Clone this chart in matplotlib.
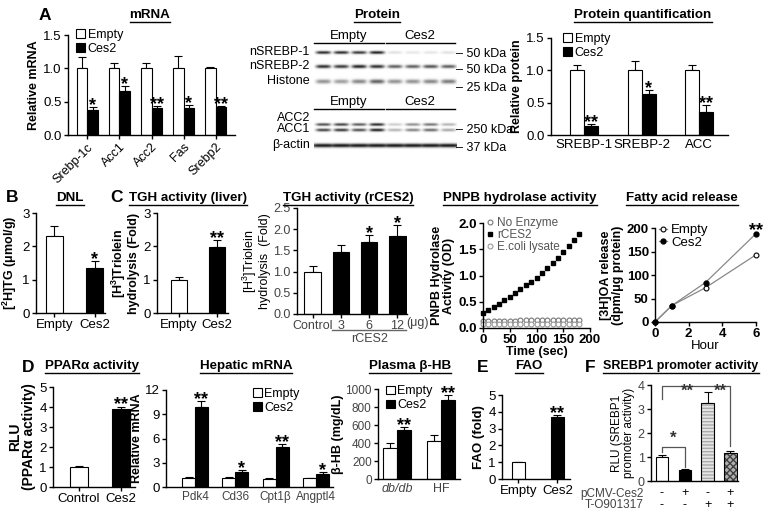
import numpy as np
import matplotlib
matplotlib.use('Agg')
import matplotlib.pyplot as plt
from matplotlib.patches import Patch
from matplotlib.lines import Line2D
from matplotlib.transforms import IdentityTransform, blended_transform_factory

plt.rcParams['font.family'] = ['Liberation Sans', 'DejaVu Sans']
plt.rcParams['axes.linewidth'] = 1.0
plt.rcParams['mathtext.default'] = 'regular'

# ---------------- data ----------------
mrna_genes = ['Srebp-1c', 'Acc1', 'Acc2', 'Fas', 'Srebp2']
mrna_empty = [1.0, 1.0, 1.0, 1.0, 1.0]
mrna_empty_err = [0.17, 0.08, 0.08, 0.18, 0.02]
mrna_ces2 = [0.38, 0.66, 0.40, 0.41, 0.42]
mrna_ces2_err = [0.04, 0.08, 0.04, 0.04, 0.02]
mrna_sig = ['*', '*', '**', '*', '**']

prot_names = ['SREBP-1', 'SREBP-2', 'ACC']
prot_empty = [1.0, 1.0, 1.0]
prot_empty_err = [0.09, 0.15, 0.08]
prot_ces2 = [0.14, 0.64, 0.36]
prot_ces2_err = [0.03, 0.05, 0.10]
prot_sig = ['**', '*', '**']

# western blot band intensities (8 lanes: 4 Empty, 4 Ces2)
blot_srebp1 = [0.85, 0.85, 0.80, 0.90, 0.12, 0.10, 0.10, 0.12]
blot_srebp2 = [0.85, 0.80, 0.90, 0.85, 0.65, 0.65, 0.70, 0.65]
blot_histone = [0.45, 0.40, 0.50, 0.65, 0.45, 0.45, 0.50, 0.55]
blot_acc2 = [0.70, 0.75, 0.65, 0.85, 0.20, 0.45, 0.55, 0.30]
blot_acc1 = [0.75, 0.80, 0.70, 0.90, 0.30, 0.50, 0.60, 0.35]
blot_actin = [0.95, 0.95, 0.95, 0.95, 0.95, 0.95, 0.95, 0.95]

dnl_groups = ['Empty', 'Ces2']
dnl_vals = [2.3, 1.35]
dnl_err = [0.32, 0.20]

tgh_liver_vals = [1.0, 1.98]
tgh_liver_err = [0.08, 0.22]

tgh_r_labels = ['Control', '3', '6', '12']
tgh_r_vals = [1.0, 1.46, 1.70, 1.85]
tgh_r_err = [0.13, 0.17, 0.16, 0.25]
tgh_r_sig = ['', '', '*', '*']

pnpb_time = [0, 10, 20, 30, 40, 50, 60, 70, 80, 90, 100, 110, 120, 130, 140, 150, 160, 170, 180]
pnpb_rces2 = [0.28, 0.34, 0.40, 0.46, 0.53, 0.60, 0.67, 0.74, 0.81, 0.88, 0.96,
              1.05, 1.14, 1.24, 1.34, 1.45, 1.56, 1.67, 1.79]
pnpb_noenz = [0.14, 0.14, 0.14, 0.14, 0.14, 0.14, 0.14, 0.15, 0.15, 0.15, 0.15,
              0.15, 0.15, 0.15, 0.15, 0.16, 0.16, 0.16, 0.16]
pnpb_ecoli = [0.07, 0.07, 0.07, 0.07, 0.07, 0.07, 0.07, 0.07, 0.08, 0.08, 0.08,
              0.08, 0.08, 0.08, 0.08, 0.08, 0.08, 0.08, 0.08]

fa_hours = [0, 1, 3, 6]
fa_empty = [0, 35, 73, 143]
fa_ces2 = [0, 35, 84, 188]

ppar_groups = ['Control', 'Ces2']
ppar_vals = [1.0, 3.9]
ppar_err = [0.04, 0.12]

hep_genes = ['Pdk4', 'Cd36', 'Cpt1β', 'Angptl4']
hep_empty = [1.1, 1.1, 1.05, 1.1]
hep_empty_err = [0.10, 0.15, 0.10, 0.06]
hep_ces2 = [9.9, 1.9, 4.9, 1.6]
hep_ces2_err = [0.7, 0.15, 0.4, 0.2]
hep_sig = ['**', '*', '**', '*']

bhb_groups = ['db/db', 'HF']
bhb_empty = [350, 420]
bhb_empty_err = [45, 70]
bhb_ces2 = [545, 880]
bhb_ces2_err = [35, 55]

fao_groups = ['Empty', 'Ces2']
fao_vals = [1.0, 3.7]
fao_err = [0.03, 0.08]

srebp_vals = [1.0, 0.45, 3.25, 1.18]
srebp_err = [0.10, 0.03, 0.45, 0.08]
pcmv_signs = ['-', '+', '-', '+']
to_signs = ['-', '-', '+', '+']

# ---------------- helpers ----------------
W, H = 773, 515
fig = plt.figure(figsize=(W / 100, H / 100), dpi=100)


def px_axes(l, t, r, b):
    return fig.add_axes([l / W, 1 - b / H, (r - l) / W, (b - t) / H])


def style(ax, labelsize=9.5, bold=False):
    for s in ['top', 'right']:
        ax.spines[s].set_visible(False)
    ax.tick_params(direction='out', length=3, width=1, labelsize=labelsize, pad=1.5)
    if bold:
        for lab in ax.get_xticklabels() + ax.get_yticklabels():
            lab.set_fontweight('bold')


def bars(ax, x, vals, errs, color, width, lw=0.8):
    ax.bar(x, vals, width, color=color, edgecolor='black', linewidth=lw, zorder=2)
    ax.errorbar(x, vals, yerr=[np.zeros(len(vals)), errs], fmt='none', ecolor='black',
                elinewidth=0.8, capsize=3, capthick=0.8, zorder=1)


def star(ax, x, y, s, size=13):
    if s:
        ax.annotate(s, (x, y), xytext=(0, -5), textcoords='offset points',
                    ha='center', va='bottom', fontsize=size, fontweight='bold')


def sq_legend(ax, **kw):
    h = [Patch(facecolor='white', edgecolor='black', linewidth=0.8),
         Patch(facecolor='black', edgecolor='black', linewidth=0.8)]
    leg = ax.legend(h, ['Empty', 'Ces2'], frameon=False, handlelength=0.7, handleheight=0.7,
                    handletextpad=0.2, labelspacing=0.15, borderpad=0, borderaxespad=0,
                    fontsize=kw.pop('fontsize', 9), **kw)
    return leg


titles = []


def title(x, y, s, size=9.6):
    titles.append(fig.text(x / W, 1 - y / H, s, ha='center', va='center',
                           fontsize=size, fontweight='bold'))


def letter(x, y, s):
    fig.text(x / W, 1 - y / H, s, ha='center', va='center', fontsize=12.5, fontweight='bold')


# ---------------- A: mRNA ----------------
ax = px_axes(68, 35, 235, 135)
style(ax)
x = np.arange(len(mrna_genes))
bars(ax, x - 0.165, mrna_empty, mrna_empty_err, 'white', 0.33)
bars(ax, x + 0.165, mrna_ces2, mrna_ces2_err, 'black', 0.33)
for i in range(len(x)):
    star(ax, x[i] + 0.165, mrna_ces2[i] + mrna_ces2_err[i], mrna_sig[i])
ax.set_xlim(-0.6, 4.6)
ax.set_ylim(0, 1.5)
ax.set_yticks([0, 0.5, 1.0, 1.5])
ax.set_yticklabels(['0.0', '0.5', '1.0', '1.5'])
ax.set_xticks(x)
ax.set_xticklabels(mrna_genes, rotation=45, ha='right', rotation_mode='anchor', fontsize=9)
ax.set_ylabel('Relative mRNA', fontsize=9, fontweight='bold', labelpad=2)
sq_legend(ax, loc='upper left', bbox_to_anchor=(0.05, 1.06))

# ---------------- A: blots ----------------


def blot(ax, rows, wpx, hpx):
    img = np.zeros((hpx, wpx))
    yy = np.arange(hpx)[:, None]
    xx = np.arange(wpx)[None, :]
    lane_w = wpx / 8.0
    for yc, sig, frac, intens in rows:
        for i, v in enumerate(intens):
            xc = (i + 0.5) * lane_w
            px_ = np.exp(-np.abs((xx - xc) / (lane_w * frac)) ** 4)
            py_ = np.exp(-((yy - yc) / sig) ** 2)
            img = np.maximum(img, v * px_ * py_)
    ax.imshow(1 - img * 0.92, cmap='gray', vmin=0, vmax=1, aspect='auto',
              interpolation='bilinear', extent=(0, wpx, hpx, 0))
    ax.set_axis_off()


ax = px_axes(314, 46, 456, 90)
blot(ax, [(6, 1.6, 0.42, blot_srebp1), (20, 1.8, 0.42, blot_srebp2),
          (35, 2.2, 0.42, blot_histone)], 142, 44)
ax = px_axes(314, 113, 456, 152)
blot(ax, [(11, 1.5, 0.42, blot_acc2), (16.5, 1.6, 0.42, blot_acc1),
          (32, 2.0, 0.75, blot_actin)], 142, 39)

for ytxt, yline in [(36, 43), (102, 109)]:
    fig.text(349 / W, 1 - ytxt / H, 'Empty', ha='center', va='center', fontsize=9.5)
    fig.text(420 / W, 1 - ytxt / H, 'Ces2', ha='center', va='center', fontsize=9.5)
    fig.add_artist(Line2D([314 / W, 384 / W], [1 - yline / H] * 2, color='black', lw=1))
    fig.add_artist(Line2D([386 / W, 455 / W], [1 - yline / H] * 2, color='black', lw=1))

for s, yy in [('nSREBP-1', 52), ('nSREBP-2', 66), ('Histone', 81),
              ('ACC2', 118), ('ACC1', 129), ('β-actin', 145)]:
    fig.text(310 / W, 1 - yy / H, s, ha='right', va='center', fontsize=9)
for s, yy in [('– 50 kDa', 54), ('– 50 kDa', 70), ('– 25 kDa', 88),
              ('– 250 kDa', 130), ('– 37 kDa', 148)]:
    fig.text(456 / W, 1 - yy / H, s, ha='left', va='center', fontsize=9)

# ---------------- A: protein quantification ----------------
ax = px_axes(551, 38, 728, 135)
style(ax)
x = np.arange(len(prot_names))
bars(ax, x - 0.1225, prot_empty, prot_empty_err, 'white', 0.245)
bars(ax, x + 0.1225, prot_ces2, prot_ces2_err, 'black', 0.245)
for i in range(len(x)):
    star(ax, x[i] + 0.1225, prot_ces2[i] + prot_ces2_err[i], prot_sig[i])
ax.set_xlim(-0.58, 2.5)
ax.set_ylim(0, 1.5)
ax.set_yticks([0, 0.5, 1.0, 1.5])
ax.set_yticklabels(['0.0', '0.5', '1.0', '1.5'])
ax.set_xticks(x)
ax.set_xticklabels(prot_names)
ax.tick_params(axis='x', length=0, pad=3)
ax.set_ylabel('Relative protein', fontsize=9, fontweight='bold', labelpad=2)
sq_legend(ax, loc='upper left', bbox_to_anchor=(0.07, 1.05))

# ---------------- B: DNL ----------------
ax = px_axes(36, 213, 105, 313)
style(ax)
x = np.arange(2)
bars(ax, x, dnl_vals, dnl_err, ['white', 'black'], 0.43)
star(ax, 1, dnl_vals[1] + dnl_err[1], '*')
ax.set_xlim(-0.46, 1.26)
ax.set_ylim(0, 3)
ax.set_yticks([0, 1, 2, 3])
ax.set_xticks(x)
ax.set_xticklabels(dnl_groups)
ax.set_ylabel('[$^{2}$H]TG (μmol/g)', fontsize=9, fontweight='bold', labelpad=2)

# ---------------- C: TGH liver ----------------
ax = px_axes(157, 213, 228, 313)
style(ax)
bars(ax, x, tgh_liver_vals, tgh_liver_err, ['white', 'black'], 0.42)
star(ax, 1, tgh_liver_vals[1] + tgh_liver_err[1], '**')
ax.set_xlim(-0.58, 1.29)
ax.set_ylim(0, 3)
ax.set_yticks([0, 1, 2, 3])
ax.set_xticks(x)
ax.set_xticklabels(['Empty', 'Ces2'])
ax.set_ylabel('[H$^{3}$]Triolein\nhydrolysis (Fold)', fontsize=9, fontweight='bold',
              labelpad=2, linespacing=1.0)

# ---------------- C: TGH rCES2 ----------------
ax = px_axes(297, 208, 407, 314)
style(ax, labelsize=9)
x = np.arange(4)
bars(ax, x, tgh_r_vals, tgh_r_err, ['white', 'black', 'black', 'black'], 0.58)
for i in range(4):
    star(ax, x[i], tgh_r_vals[i] + tgh_r_err[i], tgh_r_sig[i])
ax.set_xlim(-0.55, 3.34)
ax.set_ylim(0, 2.5)
ax.set_yticks([0, 0.5, 1.0, 1.5, 2.0, 2.5])
ax.set_yticklabels(['0.0', '0.5', '1.0', '1.5', '2.0', '2.5'], color='#444444')
ax.set_xticks(x)
ax.set_xticklabels(tgh_r_labels, color='#444444')
ax.set_ylabel('[H$^{3}$]Triolein\nhydrolysis  (Fold)', fontsize=9, labelpad=2, linespacing=1.0)
tr = blended_transform_factory(ax.transData, ax.transAxes)
ax.text(3.3, -0.085, '(μg)', transform=tr, ha='left', va='center', fontsize=9, color='#444444')
ax.add_line(Line2D([0.7, 3.3], [-0.155, -0.155], transform=tr, color='#666666', lw=1, clip_on=False))
ax.text(2.0, -0.24, 'rCES2', transform=tr, ha='center', va='center', fontsize=9, color='#444444')

# ---------------- PNPB ----------------
ax = px_axes(483, 223, 590, 328)
ax.plot(pnpb_time, pnpb_noenz, 'o', mfc='white', mec='#777777', ms=3.5, mew=0.8,
        clip_on=False, label='No Enzyme')
ax.plot(pnpb_time, pnpb_rces2, 's', color='black', ms=3.5, clip_on=False, label='rCES2')
ax.plot(pnpb_time, pnpb_ecoli, 'o', mfc='white', mec='#999999', ms=3.5, mew=0.8,
        clip_on=False, label='E.coli lysate')
ax.set_xlim(0, 200)
ax.set_ylim(0, 2.0)
ax.set_xticks([0, 50, 100, 150, 200])
ax.set_yticks([0, 0.5, 1.0, 1.5, 2.0])
ax.set_yticklabels(['0.0', '0.5', '1.0', '1.5', '2.0'])
style(ax, bold=True)
ax.set_xlabel('Time (sec)', fontsize=9, fontweight='bold', labelpad=0)
ax.set_ylabel('PNPB Hydrolase\nActivity (OD)', fontsize=9, fontweight='bold', labelpad=2,
              linespacing=1.0)
leg = ax.legend(frameon=False, loc='upper left', bbox_to_anchor=(0.03, 1.06), fontsize=8.5,
                handlelength=0.6, handletextpad=0.3, labelspacing=0.0, borderpad=0,
                borderaxespad=0)
for t in leg.get_texts():
    t.set_color('#555555')

# ---------------- Fatty acid release ----------------
ax = px_axes(655, 228, 756, 322)
ax.plot(fa_hours, fa_empty, '-o', color='#888888', lw=0.9, mfc='white', mec='black',
        ms=3.5, mew=0.8, clip_on=False, label='Empty')
ax.plot(fa_hours, fa_ces2, '-o', color='#888888', lw=0.9, mfc='black', mec='black',
        ms=3.5, clip_on=False, label='Ces2')
star(ax, 6, fa_ces2[-1] + 3, '**')
ax.set_xlim(0, 6)
ax.set_ylim(0, 200)
ax.set_xticks([0, 2, 4, 6])
ax.set_yticks([0, 50, 100, 150, 200])
style(ax, bold=True)
ax.set_xlabel('Hour', fontsize=9.5, labelpad=0)
ax.set_ylabel('[3H]OA release\n(dpm/μg protein)', fontsize=9, fontweight='bold', labelpad=2,
              linespacing=1.0)
ax.legend(frameon=False, loc='upper left', bbox_to_anchor=(0.04, 1.04), fontsize=9.5,
          handlelength=0.6, handletextpad=0.3, labelspacing=0.0, borderpad=0, borderaxespad=0,
          markerscale=1)

# ---------------- D: PPARa ----------------
ax = px_axes(53, 387, 135, 487)
style(ax)
x = np.arange(2)
bars(ax, x, ppar_vals, ppar_err, ['white', 'black'], 0.43)
star(ax, 1, ppar_vals[1] + ppar_err[1], '**')
ax.set_xlim(-0.62, 1.33)
ax.set_ylim(0, 5)
ax.set_yticks([0, 1, 2, 3, 4, 5])
ax.set_xticks(x)
ax.set_xticklabels(ppar_groups)
ax.set_ylabel('RLU\n(PPARα activity)', fontsize=10, fontweight='bold', labelpad=2,
              linespacing=1.0)

# ---------------- D: hepatic mRNA ----------------
ax = px_axes(166, 390, 333, 487)
style(ax)
x = np.arange(4)
bars(ax, x - 0.16, hep_empty, hep_empty_err, 'white', 0.32)
bars(ax, x + 0.16, hep_ces2, hep_ces2_err, 'black', 0.32)
for i in range(4):
    star(ax, x[i] + 0.16, hep_ces2[i] + hep_ces2_err[i], hep_sig[i])
ax.set_xlim(-0.72, 3.42)
ax.set_ylim(0, 12)
ax.set_yticks([0, 3, 6, 9, 12])
ax.set_xticks(x)
ax.set_xticklabels(hep_genes, fontsize=8.5, color='#444444')
ax.tick_params(axis='x', length=0, pad=3)
ax.set_ylabel('Relative mRNA', fontsize=9, fontweight='bold', labelpad=1)
sq_legend(ax, loc='upper right', bbox_to_anchor=(0.80, 1.02))

# ---------------- D: plasma b-HB ----------------
ax = px_axes(378, 389, 460, 479)
style(ax, labelsize=8.5)
x = np.arange(2)
bars(ax, x - 0.16, bhb_empty, bhb_empty_err, 'white', 0.32)
bars(ax, x + 0.16, bhb_ces2, bhb_ces2_err, 'black', 0.32)
for i in range(2):
    star(ax, x[i] + 0.16, bhb_ces2[i] + bhb_ces2_err[i], '**')
ax.set_xlim(-0.43, 1.43)
ax.set_ylim(0, 1000)
ax.set_yticks([0, 200, 400, 600, 800, 1000])
ax.set_yticklabels(['0', '200', '400', '600', '800', '1000'], color='#444444')
ax.set_xticks(x)
ax.set_xticklabels(bhb_groups, color='#444444', fontsize=9)
ax.get_xticklabels()[0].set_style('italic')
ax.tick_params(axis='x', length=0, pad=3)
ax.set_ylabel('β-HB (mg/dL)', fontsize=9, fontweight='bold', labelpad=1)
sq_legend(ax, loc='upper left', bbox_to_anchor=(0.1, 1.04))

# ---------------- E: FAO ----------------
ax = px_axes(502, 395, 570, 479)
style(ax)
bars(ax, x, fao_vals, fao_err, ['white', 'black'], 0.33)
star(ax, 1, fao_vals[1] + fao_err[1], '**')
ax.set_xlim(-0.42, 1.32)
ax.set_ylim(0, 5)
ax.set_yticks([0, 1, 2, 3, 4, 5])
ax.set_xticks(x)
ax.set_xticklabels(fao_groups)
ax.set_ylabel('FAO (fold)', fontsize=9.5, fontweight='bold', labelpad=2)

# ---------------- F: SREBP1 promoter ----------------
ax = px_axes(651, 385, 738, 481)
style(ax, labelsize=9)
x = np.arange(4)
w = 0.55
ax.bar(x[:2], srebp_vals[:2], w, color=['white', 'black'], edgecolor='black', lw=0.8, zorder=2)
ax.bar(x[2], srebp_vals[2], w, color='#e4e4e4', edgecolor='#aaaaaa', lw=0, hatch='-----', zorder=2)
ax.bar(x[3], srebp_vals[3], w, color='#b0b0b0', edgecolor='#404040', lw=0, hatch='xxxxx', zorder=2)
ax.bar(x[2:], srebp_vals[2:], w, color='none', edgecolor='black', lw=0.8, zorder=3)
ax.errorbar(x, srebp_vals, yerr=[np.zeros(4), srebp_err], fmt='none', ecolor='black',
            elinewidth=0.8, capsize=3, capthick=0.8, zorder=1)
ax.set_xlim(-0.48, 3.33)
ax.set_ylim(0, 4)
ax.set_yticks([0, 1, 2, 3, 4])
ax.set_yticklabels(['0', '1', '2', '3', '4'], color='#444444')
ax.set_xticks(x)
ax.set_xticklabels([])
ax.tick_params(axis='x', length=0)
# significance brackets
bk = dict(color='#555555', lw=0.9, clip_on=False)
ax.plot([0, 0, 1, 1], [1.2, 1.42, 1.42, 0.6], **bk)
ax.text(0.5, 1.45, '*', ha='center', va='bottom', fontsize=12, fontweight='bold', color='#333333')
ax.plot([0, 0, 3, 3], [3.4, 3.95, 3.95, 1.45], **bk)
ax.text(1.1, 3.75, '**', ha='center', va='center', fontsize=12, fontweight='bold', color='#333333')
ax.text(2.55, 3.75, '**', ha='center', va='center', fontsize=12, fontweight='bold', color='#333333')
ax.set_ylabel('RLU (SREBP1\npromoter activity)', fontsize=8.5, labelpad=2, linespacing=1.0)
tr = blended_transform_factory(ax.transData, ax.transAxes)
for i in range(4):
    ax.text(x[i], -0.13, pcmv_signs[i], transform=tr, ha='center', va='center', fontsize=9)
    ax.text(x[i], -0.25, to_signs[i], transform=tr, ha='center', va='center', fontsize=9)
fig.text(644 / W, 1 - 494.5 / H, 'pCMV-Ces2', ha='right', va='center', fontsize=8.5, color='#444444')
fig.text(644 / W, 1 - 505.5 / H, 'T-O901317', ha='right', va='center', fontsize=8.5, color='#444444')

# ---------------- titles and letters ----------------
title(150, 15, 'mRNA')
title(377, 15, 'Protein')
title(643, 15, 'Protein quantification')
title(70, 198, 'DNL')
title(188, 198, 'TGH activity (liver)')
title(348, 198, 'TGH activity (rCES2)')
title(520, 198, 'PNPB hydrolase activity')
title(682, 198, 'Fatty acid release')
title(92, 366, 'PPARα activity')
title(246, 366, 'Hepatic mRNA')
title(410, 366, 'Plasma β-HB')
title(529, 366, 'FAO')
title(681, 366, 'SREBP1 promoter activity', size=9.0)

letter(45, 15, 'A')
letter(12, 198, 'B')
letter(117, 198, 'C')
letter(28, 367, 'D')
letter(483, 367, 'E')
letter(590, 367, 'F')

fig.canvas.draw()
r = fig.canvas.get_renderer()
for t in titles:
    bb = t.get_window_extent(r)
    fig.add_artist(Line2D([bb.x0, bb.x1], [bb.y0 - 0.5, bb.y0 - 0.5], transform=IdentityTransform(),
                          color='black', lw=1.0))

fig.savefig('out.png', dpi=100)
